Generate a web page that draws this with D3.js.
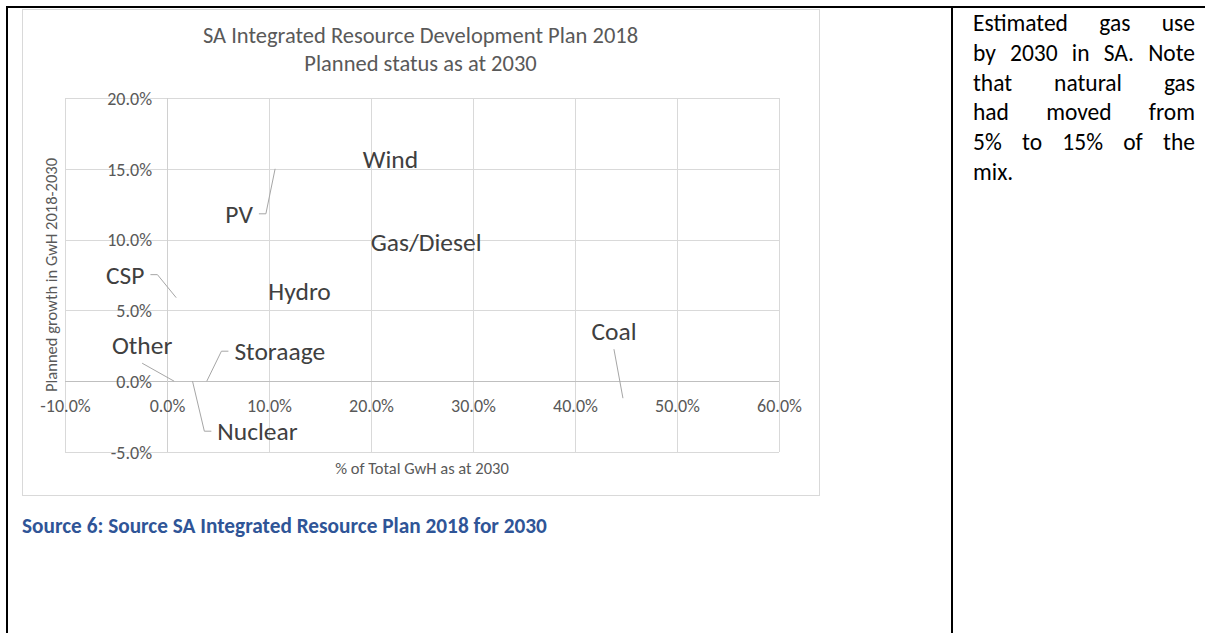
<!DOCTYPE html>
<html>
<head>
<meta charset="utf-8">
<script src="https://cdn.jsdelivr.net/npm/d3@7"></script>
<style>
  html, body { margin: 0; padding: 0; background: #fff; }
  svg { display: block; }
  text { font-family: Calibri, Carlito, Lato, "Open Sans", sans-serif; }
</style>
</head>
<body>
<svg id="page" width="1205" height="633"></svg>
<script>
// Generation mix planned for 2030 (IRP 2018)
const categories   = ["Coal", "Nuclear", "Hydro", "Storaage", "PV", "Wind", "CSP", "Gas/Diesel", "Other"];
const shareOfTotal = [0.447, 0.025, 0.130, 0.039, 0.106, 0.219, 0.009, 0.254, 0.007];
const growth       = [-0.012, 0.000, 0.064, 0.000, 0.150, 0.157, 0.059, 0.098, 0.000];

const xTickValues = [-0.1, 0, 0.1, 0.2, 0.3, 0.4, 0.5, 0.6];
const yTickValues = [-0.05, 0, 0.05, 0.1, 0.15, 0.2];

const titleLines = ["SA Integrated Resource Development Plan 2018", "Planned status as at 2030"];
const xAxisTitle = "% of Total GwH as at 2030";
const yAxisTitle = "Planned growth in GwH 2018-2030";
const captionText = "Source 6: Source SA Integrated Resource Plan 2018 for 2030";
const noteLines = [
  "Estimated gas use",
  "by 2030 in SA. Note",
  "that natural gas",
  "had moved from",
  "5% to 15% of the",
  "mix."
];

// Where each data label sits relative to its point, and how its leader attaches
const labelLayout = {
  "Coal":       { dx: -9,  dy: -67, leader: "below" },
  "Nuclear":    { dx: 65,  dy: 50,  leader: "right" },
  "Hydro":      { dx: 0,   dy: 0,   leader: null },
  "Storaage":   { dx: 73,  dy: -30, leader: "right" },
  "PV":         { dx: -36, dy: 45,  leader: "left" },
  "Wind":       { dx: 0,   dy: 0,   leader: null },
  "CSP":        { dx: -51, dy: -23, leader: "left" },
  "Gas/Diesel": { dx: 0,   dy: 0,   leader: null },
  "Other":      { dx: -32, dy: -36, leader: "below" }
};

const points = categories.map((c, i) => ({ name: c, x: shareOfTotal[i], y: growth[i] }));

const svg = d3.select("#page");
svg.append("rect").attr("width", 1205).attr("height", 633).attr("fill", "#fff");

// chart frame
const chart = { left: 22, top: 9, right: 819, bottom: 495 };
svg.append("rect")
  .attr("x", chart.left + 0.5).attr("y", chart.top + 0.5)
  .attr("width", chart.right - chart.left).attr("height", chart.bottom - chart.top)
  .attr("fill", "#fff").attr("stroke", "#d9d9d9").attr("stroke-width", 1);

const plot = { left: 65, top: 98, right: 779, bottom: 452 };
const x = d3.scaleLinear().domain([-0.1, 0.6]).range([plot.left, plot.right]);
const y = d3.scaleLinear().domain([-0.05, 0.2]).range([plot.bottom, plot.top]);
const pct = v => d3.format(".1%")(v).replace("\u2212", "-");

// gridlines
const grid = svg.append("g");
grid.append("g")
  .attr("transform", `translate(0,${plot.bottom})`)
  .call(d3.axisBottom(x).tickValues(xTickValues).tickSize(-(plot.bottom - plot.top)).tickFormat(""))
  .call(g => g.select(".domain").remove())
  .call(g => g.selectAll("line").attr("stroke", "#d9d9d9").attr("shape-rendering", "crispEdges"));
grid.append("g")
  .attr("transform", `translate(${plot.left},0)`)
  .call(d3.axisLeft(y).tickValues(yTickValues).tickSize(-(plot.right - plot.left)).tickFormat(""))
  .call(g => g.select(".domain").remove())
  .call(g => g.selectAll("line").attr("stroke", "#d9d9d9").attr("shape-rendering", "crispEdges"));

// axis lines through zero
svg.append("line")
  .attr("x1", plot.left).attr("x2", plot.right).attr("y1", y(0)).attr("y2", y(0))
  .attr("stroke", "#bfbfbf").attr("shape-rendering", "crispEdges");
svg.append("line")
  .attr("x1", x(0)).attr("x2", x(0)).attr("y1", plot.top).attr("y2", plot.bottom)
  .attr("stroke", "#d0d0d0").attr("shape-rendering", "crispEdges");

// tick labels, next to the zero axes
const tickFont = 18, tickColor = "#595959";
svg.append("g")
  .attr("transform", `translate(0,${y(0) + 24})`)
  .call(d3.axisBottom(x).tickValues(xTickValues).tickSize(0).tickPadding(0).tickFormat(pct))
  .call(g => g.select(".domain").remove())
  .call(g => g.selectAll("text")
    .attr("font-size", tickFont).attr("fill", tickColor).attr("dy", "0.35em")
    .attr("font-family", null));
svg.append("g")
  .attr("transform", `translate(${x(0) - 15},0)`)
  .call(d3.axisLeft(y).tickValues(yTickValues).tickSize(0).tickPadding(0).tickFormat(pct))
  .call(g => g.select(".domain").remove())
  .call(g => g.selectAll("text")
    .attr("font-size", tickFont).attr("fill", tickColor).attr("dy", "0.35em")
    .attr("font-family", null));

// titles
svg.append("g").selectAll("text").data(titleLines).join("text")
  .attr("x", (chart.left + chart.right) / 2)
  .attr("y", (d, i) => 43 + i * 28)
  .attr("text-anchor", "middle")
  .attr("font-size", 22.5).attr("fill", "#595959")
  .text(d => d);

svg.append("text")
  .attr("x", (plot.left + plot.right) / 2).attr("y", 474)
  .attr("text-anchor", "middle").attr("font-size", 16.5).attr("fill", "#595959")
  .text(xAxisTitle);

svg.append("text")
  .attr("transform", `translate(57,${(plot.top + plot.bottom) / 2}) rotate(-90)`)
  .attr("text-anchor", "middle").attr("font-size", 16.5).attr("fill", "#595959")
  .text(yAxisTitle);

// data labels with leader lines
const labelFont = 25.5;
const labels = svg.append("g");
const leaders = svg.append("g");
points.forEach(p => {
  const px = x(p.x), py = y(p.y);
  const L = labelLayout[p.name];
  const cx = px + L.dx, cy = py + L.dy;
  const t = labels.append("text")
    .attr("x", cx).attr("y", cy).attr("dy", "0.35em")
    .attr("text-anchor", "middle").attr("font-size", labelFont).attr("fill", "#404040")
    .text(p.name);
  if (!L.leader) return;
  const w = t.node().getComputedTextLength();
  let pts;
  if (L.leader === "left") {
    const ax = cx + w / 2 + 6;
    pts = [[ax, cy], [ax + 7, cy], [px, py]];
  } else if (L.leader === "right") {
    const ax = cx - w / 2 - 6;
    pts = [[ax, cy], [ax - 7, cy], [px, py]];
  } else {
    pts = [[cx, cy + 18], [px, py]];
  }
  leaders.append("path")
    .attr("d", d3.line()(pts))
    .attr("fill", "none").attr("stroke", "#a6a6a6").attr("stroke-width", 1);
});

// caption under the chart
svg.append("text")
  .attr("x", 22).attr("y", 533)
  .attr("font-size", 21.3).attr("font-weight", "bold").attr("fill", "#2f5597")
  .text(captionText);

// side note, justified
const note = { left: 973, right: 1195, top: 31, step: 29.8, size: 23.5 };
const noteG = svg.append("g").attr("font-size", note.size).attr("fill", "#000");
noteLines.forEach((line, i) => {
  const words = line.split(" ");
  const yy = note.top + i * note.step;
  const nodes = words.map(w => noteG.append("text").attr("y", yy).text(w));
  const widths = nodes.map(n => n.node().getComputedTextLength());
  const last = i === noteLines.length - 1;
  const total = d3.sum(widths);
  const gap = (last || words.length < 2) ? note.size * 0.25 : (note.right - note.left - total) / (words.length - 1);
  let cur = note.left;
  nodes.forEach((n, k) => { n.attr("x", cur); cur += widths[k] + gap; });
});

// table borders around the figure and the note
const border = svg.append("g").attr("stroke", "#000").attr("stroke-width", 2);
border.append("line").attr("x1", 6).attr("x2", 1205).attr("y1", 7).attr("y2", 7);
border.append("line").attr("x1", 7).attr("x2", 7).attr("y1", 6).attr("y2", 633);
border.append("line").attr("x1", 952).attr("x2", 952).attr("y1", 6).attr("y2", 633);
</script>
</body>
</html>
